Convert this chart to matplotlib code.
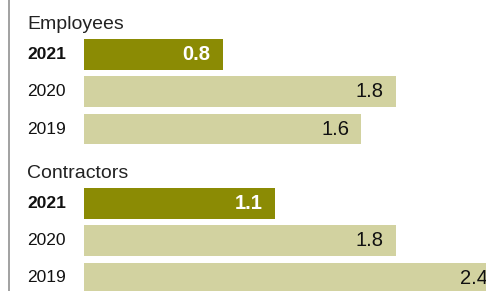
import matplotlib.pyplot as plt

# data
groups = ["Employees", "Contractors"]
years = ["2021", "2020", "2019"]
employees = [0.8, 1.8, 1.6]
contractors = [1.1, 1.8, 2.4]

dark = "#8b8b04"
light = "#d2d2a0"

plt.rcParams["font.family"] = ["Liberation Sans", "DejaVu Sans"]

fig = plt.figure(figsize=(4.86, 2.91), dpi=100)
ax = fig.add_axes([0, 0, 1, 1])

px_per_unit = 173.3   # bar length scale
row_px = 37.25        # distance between rows
x0_px = 84            # where bars start
y0_px = 54.5          # centre of first row

ax.set_xlim(-x0_px / px_per_unit, (486 - x0_px) / px_per_unit)
ax.set_ylim((291 - y0_px) / row_px, -y0_px / row_px)
ax.axis("off")

ytr = ax.get_yaxis_transform()
row = 0
for name, vals in zip(groups, [employees, contractors]):
    ax.text(27 / 486, row - 0.685, name, transform=ytr, fontsize=14,
            va="baseline", ha="left", color="#222222")
    for i, (yr, v) in enumerate(zip(years, vals)):
        latest = i == 0
        ax.barh(row, v, height=0.83, left=0, color=dark if latest else light)
        ax.text(27 / 486, row, yr, transform=ytr, fontsize=12.5, va="center",
                ha="left", fontweight="bold" if latest else "normal",
                color="#111111")
        ax.annotate(f"{v:.1f}", (v, row), xytext=(-8.6, 0),
                    textcoords="offset points", ha="right", va="center",
                    fontsize=14.5, fontweight="bold" if latest else "normal",
                    color="white" if latest else "#111111",
                    annotation_clip=False)
        row += 1
    row += 1

ax.plot([8.5 / 486, 8.5 / 486], [0, 1], transform=ax.transAxes,
        color="#9a9a9a", lw=1.3, clip_on=False)

fig.savefig("out.png", dpi=100)
